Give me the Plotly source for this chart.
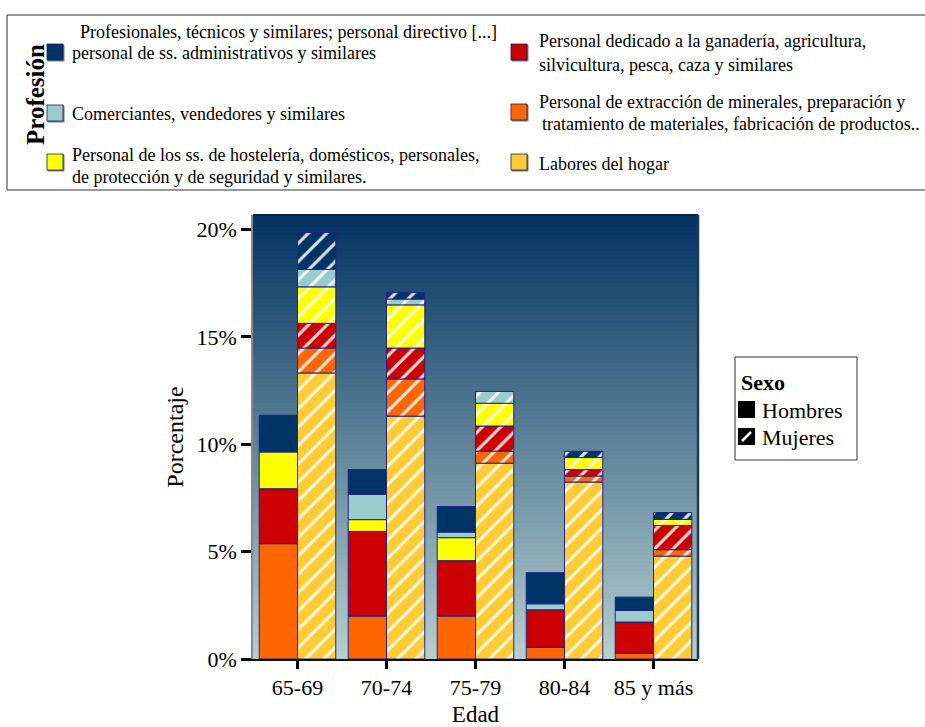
import numpy as np
import plotly.graph_objects as go

# Age groups on the x axis
edades = ["65-69", "70-74", "75-79", "80-84", "85 y más"]

# Percentage of each occupation, stacked bottom to top, for men
hombres_labores = [0.00, 0.00, 0.00, 0.00, 0.00]
hombres_extraccion = [5.37, 2.00, 2.00, 0.55, 0.27]
hombres_agricultura = [2.56, 3.94, 2.58, 1.74, 1.45]
hombres_hosteleria = [1.71, 0.55, 1.07, 0.00, 0.00]
hombres_comerciantes = [0.00, 1.17, 0.26, 0.28, 0.54]
hombres_profesionales = [1.71, 1.16, 1.19, 1.45, 0.62]

# ... and for women
mujeres_labores = [13.32, 11.31, 9.12, 8.24, 4.79]
mujeres_extraccion = [1.16, 1.73, 0.56, 0.28, 0.30]
mujeres_agricultura = [1.15, 1.44, 1.17, 0.30, 1.13]
mujeres_hosteleria = [1.70, 2.01, 1.06, 0.56, 0.28]
mujeres_comerciantes = [0.81, 0.27, 0.55, 0.00, 0.00]
mujeres_profesionales = [1.72, 0.31, 0.00, 0.29, 0.32]

# y axis ticks
y_ticks = [0, 5, 10, 15, 20]
y_ticktext = ["0%", "5%", "10%", "15%", "20%"]

profesiones = [
    "Labores del hogar",
    "Personal de extracción de minerales, preparación y tratamiento de materiales, fabricación de productos..",
    "Personal dedicado a la ganadería, agricultura, silvicultura, pesca, caza y similares",
    "Personal de los ss. de hostelería, domésticos, personales, de protección y de seguridad y similares.",
    "Comerciantes, vendedores y similares",
    "Profesionales, técnicos y similares; personal directivo [...] personal de ss. administrativos y similares",
]
colores = ["#FFCC33", "#FF6600", "#CC0000", "#FFFF00", "#99CCCC", "#003366"]

series_h = [hombres_labores, hombres_extraccion, hombres_agricultura,
            hombres_hosteleria, hombres_comerciantes, hombres_profesionales]
series_m = [mujeres_labores, mujeres_extraccion, mujeres_agricultura,
            mujeres_hosteleria, mujeres_comerciantes, mujeres_profesionales]

SERIF = "Liberation Serif, Times New Roman, serif"
BAR_W = 0.43
OUTLINE = "#22228a"

fig = go.Figure()


def add_stack(series, offset, hatched, sexo):
    base = np.zeros(len(edades))
    for name, vals, col in zip(profesiones, series, colores):
        vals = np.array(vals, dtype=float)
        y = [v if v > 0 else None for v in vals]
        marker = dict(color=col, line=dict(color=OUTLINE, width=1))
        if hatched:
            marker["pattern"] = dict(shape="/", fgcolor="white", bgcolor=col,
                                     size=13, solidity=0.24, fgopacity=0.85)
        fig.add_trace(go.Bar(
            x=edades, y=y, base=base.copy(), offset=offset, width=BAR_W,
            name=name, legendgroup=sexo, marker=marker, showlegend=False,
            hovertemplate=sexo + "<br>%{x}: %{y:.2f}%<extra>" + name[:40] + "</extra>",
        ))
        base = base + vals


add_stack(series_h, -BAR_W, False, "Hombres")
add_stack(series_m, 0.0, True, "Mujeres")

# Plot area in pixels (925 x 727 page)
W, H = 925, 727
PL, PR, PT, PB = 253, 698, 215, 659


def px(x):
    return (x - PL) / (PR - PL)


def py(y):
    return (PB - y) / (PB - PT)


shapes = []
# Vertical gradient behind the bars
top = np.array([3, 51, 97])
bot = np.array([180, 207, 207])
n = 111
for i in range(n):
    t = i / (n - 1)
    c = (top * (1 - t) + bot * t).round().astype(int)
    y1 = 1 - i / n
    y0 = 1 - (i + 1) / n
    shapes.append(dict(type="rect", xref="paper", yref="paper", x0=0, x1=1,
                       y0=y0 - 0.002, y1=y1, layer="below", line_width=0,
                       fillcolor=f"rgb({c[0]},{c[1]},{c[2]})"))
# Frame of the plot area
shapes.append(dict(type="line", xref="paper", yref="paper", x0=0, x1=1, y0=1, y1=1,
                   line=dict(color="#0d2440", width=2)))
shapes.append(dict(type="line", xref="paper", yref="paper", x0=1, x1=1, y0=0, y1=1,
                   line=dict(color="#1d3a52", width=2.5)))

annotations = []

# ---- Profesión legend box ----
shapes.append(dict(type="rect", xref="paper", yref="paper",
                   x0=px(7), x1=px(935), y0=py(190), y1=py(15),
                   line=dict(color="#333333", width=1), fillcolor="rgba(0,0,0,0)"))
annotations.append(dict(text="<b>Profesión</b>", x=px(35), y=py(95), xref="paper", yref="paper",
                        textangle=-90, showarrow=False, font=dict(family=SERIF, size=25, color="black"),
                        xanchor="center", yanchor="middle"))

leg_items = [
    # (swatch x, swatch center y, color, [(text, x, y), ...])
    (47, 52, "#003366", [("Profesionales, técnicos y similares; personal directivo [...]", 78, 32),
                         ("personal de ss. administrativos y similares", 70, 53)]),
    (47, 113, "#99CCCC", [("Comerciantes, vendedores y similares", 70, 114)]),
    (47, 162, "#FFFF00", [("Personal de los ss. de hostelería, domésticos, personales,", 70, 155),
                          ("de protección y de seguridad y similares.", 70, 177)]),
    (511, 52, "#CC0000", [("Personal dedicado a la ganadería, agricultura,", 537, 41),
                          ("silvicultura, pesca, caza y similares", 537, 65)]),
    (511, 112, "#FF6600", [("Personal de extracción de minerales, preparación y", 537, 102),
                           ("tratamiento de materiales, fabricación de productos..", 540, 124)]),
    (511, 162, "#FFCC33", [("Labores del hogar", 537, 164)]),
]
for sx, sy, col, lines in leg_items:
    shapes.append(dict(type="rect", xref="paper", yref="paper",
                       x0=px(sx + 1), x1=px(sx + 17), y0=py(sy + 9), y1=py(sy - 7),
                       line=dict(color="#7a7a7a", width=1), fillcolor="#7a7a7a"))
    shapes.append(dict(type="rect", xref="paper", yref="paper",
                       x0=px(sx), x1=px(sx + 16), y0=py(sy + 8), y1=py(sy - 8),
                       line=dict(color="#1a1a5a", width=0.8), fillcolor=col))
    for txt, tx, ty in lines:
        annotations.append(dict(text=txt, x=px(tx), y=py(ty), xref="paper", yref="paper",
                                showarrow=False, xanchor="left", yanchor="middle",
                                font=dict(family=SERIF, size=18, color="black")))

# ---- Sexo legend box ----
shapes.append(dict(type="rect", xref="paper", yref="paper",
                   x0=px(735), x1=px(857), y0=py(460), y1=py(357),
                   line=dict(color="#333333", width=1), fillcolor="white"))
annotations.append(dict(text="<b>Sexo</b>", x=px(739), y=py(382), xref="paper", yref="paper",
                        showarrow=False, xanchor="left", yanchor="middle",
                        font=dict(family=SERIF, size=22, color="black")))
shapes.append(dict(type="rect", xref="paper", yref="paper",
                   x0=px(738), x1=px(755), y0=py(418), y1=py(401),
                   line_width=0, fillcolor="black"))
shapes.append(dict(type="rect", xref="paper", yref="paper",
                   x0=px(738), x1=px(755), y0=py(445), y1=py(428),
                   line_width=0, fillcolor="black"))
shapes.append(dict(type="line", xref="paper", yref="paper",
                   x0=px(742), x1=px(751), y0=py(441), y1=py(432),
                   line=dict(color="white", width=2.5)))
annotations.append(dict(text="Hombres", x=px(760), y=py(410), xref="paper", yref="paper",
                        showarrow=False, xanchor="left", yanchor="middle",
                        font=dict(family=SERIF, size=22, color="black")))
annotations.append(dict(text="Mujeres", x=px(760), y=py(437), xref="paper", yref="paper",
                        showarrow=False, xanchor="left", yanchor="middle",
                        font=dict(family=SERIF, size=22, color="black")))

y_top = (PB - PT) / ((659 - 229.5) / 20.0)

fig.update_layout(
    width=W, height=H,
    margin=dict(l=PL, r=W - PR, t=PT, b=H - PB, autoexpand=False),
    paper_bgcolor="white",
    plot_bgcolor="#5a809a",
    barmode="overlay",
    showlegend=False,
    font=dict(family=SERIF, color="black", size=22),
    shapes=shapes,
    annotations=annotations,
    xaxis=dict(
        type="category", categoryorder="array", categoryarray=edades,
        range=[-0.5, len(edades) - 0.5],
        showgrid=False, zeroline=False,
        showline=True, linecolor="#111111", linewidth=2,
        ticks="outside", ticklen=8, tickwidth=3, tickcolor="black",
        tickson="labels",
        tickfont=dict(family=SERIF, size=22, color="black"),
        title=dict(text="Edad", font=dict(family=SERIF, size=23, color="black"), standoff=21),
    ),
    yaxis=dict(
        range=[0, y_top],
        tickmode="array", tickvals=y_ticks, ticktext=y_ticktext,
        showgrid=False, zeroline=False,
        showline=True, linecolor="#8a8a8a", linewidth=1.5,
        ticks="outside", ticklen=10, tickwidth=3, tickcolor="black",
        tickfont=dict(family=SERIF, size=22, color="black"),
        title=dict(text="Porcentaje", font=dict(family=SERIF, size=24, color="black"), standoff=6),
    ),
)

fig.write_html("out.html")
